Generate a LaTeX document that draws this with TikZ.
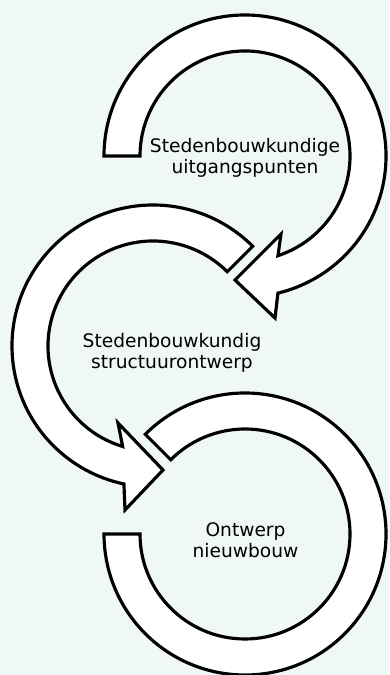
\documentclass[tikz,border=0pt]{standalone}
\usepackage{fontspec}
\setmainfont{DejaVu Sans}
\usepackage{xcolor}
\definecolor{bgGreen}{RGB}{240,248,243}

\begin{document}
\begin{tikzpicture}[x=0.02cm, y=0.02cm,
    ring/.style={draw=black, fill=white, line width=1.8pt, line join=miter},
    ringText/.style={align=center, inner sep=0pt, font=\fontsize{10.6pt}{12pt}\selectfont}]

    \def\Rout{141}; % outer radius of the rings
    \def\Rin{105}; % inner radius of the rings
    % centres of the three rings
    \def\cAx{245}; \def\cAy{519};
    \def\cBx{153}; \def\cBy{329};
    \def\cCx{245}; \def\cCy{141};

    % background
    \useasboundingbox (0,0) rectangle (389,675);
    \fill[bgGreen] (0,0) rectangle (389,675);

    %%% top arrow, clockwise %%%
    \draw[ring] ({\cAx-\Rout},\cAy) arc(180:-76.5:\Rout)
        -- (275,357) -- (235,395) -- (281,441) % head
        -- ({\cAx+\Rin*cos(-71.7)},{\cAy+\Rin*sin(-71.7)}) arc(-71.7:180:\Rin) -- cycle;

    %%% middle arrow, counterclockwise %%%
    \draw[ring] ({\cBx+\Rout*cos(45)},{\cBy+\Rout*sin(45)}) arc(45:258.1:\Rout)
        -- (125,165) -- (163,205) -- (118,252) % head
        -- ({\cBx+\Rin*cos(253.2)},{\cBy+\Rin*sin(253.2)}) arc(253.2:45:\Rin) -- cycle;

    %%% bottom ring, no head %%%
    \draw[ring] ({\cCx+\Rout*cos(135)},{\cCy+\Rout*sin(135)}) arc(135:-180:\Rout)
        -- ({\cCx-\Rin},\cCy) arc(-180:135:\Rin) -- cycle;

    %%% texts %%%
    \node[ringText] (uitgang) at (245,517.5) {Stedenbouwkundige\\uitgangspunten};
    \node[ringText] (structuur) at (172,322.5) {Stedenbouwkundig\\structuurontwerp};
    \node[ringText] (ontwerp) at (245.5,134.5) {Ontwerp\\nieuwbouw};
\end{tikzpicture}
\end{document}
